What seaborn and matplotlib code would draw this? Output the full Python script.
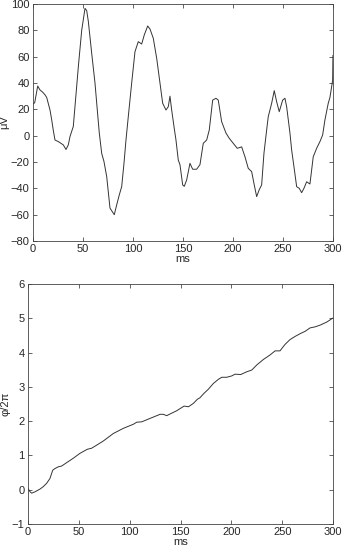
import pandas as pd
import seaborn as sns
import matplotlib.pyplot as plt

# top panel: waveform (ms, microvolts)
eeg_ms = [0, 1.7, 4.7, 7, 9.7, 12, 13.7, 17, 18.7, 20.3, 22, 25.3, 30.3, 33, 35.3, 37,
          40.3, 45.3, 48.7, 50.3, 52, 53.7, 55.3, 58.7, 62, 64.3, 66.3, 68.7, 71, 73.7,
          77, 78.7, 81.3, 83.7, 86.3, 88.7, 91, 93, 95.3, 98.7, 102, 105.3, 108.7, 111.3,
          114.7, 117, 120.3, 123.7, 127, 129.7, 133, 135.3, 137, 138.7, 141, 143, 145.3,
          147, 149.7, 151.3, 153.7, 157, 159.7, 163.7, 167, 170.3, 173.7, 176.3, 179.7,
          183, 185.3, 188.7, 193, 196.3, 200.3, 204.3, 208.7, 212, 215.3, 218.7, 221.3,
          223.7, 226.3, 228.7, 231, 233.7, 235.3, 238.7, 241.3, 243.7, 246.3, 249.7, 252,
          253.7, 257, 258.7, 261, 263.7, 266.3, 268.7, 271, 273.7, 277, 280.3, 283.7, 287,
          289.7, 292, 295.3, 297, 299.7, 300]
eeg_uv = [24, 25, 37.7, 34.7, 33, 31, 29, 19.5, 12, 4, -3.3, -4.5, -7, -10.5, -7, -0.7,
          7, 52, 80, 88, 96.7, 95, 87, 62.6, 40, 19.5, 2, -13.4, -19.7, -31,
          -55, -57, -60, -52.6, -45, -38.7, -21, -3.3, 14.4, 40, 63.8, 71.4, 69.6, 76.5,
          83.3, 81, 74, 58.8, 40, 24.6, 19.5, 22, 30, 19.5, 7, -3.3, -18.5,
          -22, -37.4, -38.5, -33.6, -21, -25.5, -25.5, -22, -5.8, -3.3, 4.3, 27,
          28.4, 27, 10.6, 2, -2, -5.8, -9.6, -8.5, -16, -24.8, -27.3, -37.4,
          -46.3, -41, -37.4, -13.4, 4.3, 14.4, 24.6, 34.2, 25.8, 18.2, 27, 28.4,
          22, 2, -10.9, -23.5, -38.7, -40, -43.3, -40, -35, -36.7, -16, -9.6, -4.5,
          0.5, 12, 24.6, 29, 42, 61]

# bottom panel: unwrapped phase in cycles
phase_ms = [0, 2, 3.6, 6.9, 11.8, 15, 18.4, 21.6, 24.3, 26.6, 29.9, 33, 38, 44.6, 51,
            58.3, 62.5, 67.5, 74, 83.9, 93.7, 103.6, 106.9, 111.8, 120, 129.9, 133,
            136.4, 139.7, 146, 153.5, 157.8, 162.7, 166.6, 169, 173, 177.3, 182.3,
            187.2, 190.5, 195.4, 200.4, 203.6, 209.2, 215.1, 220, 225, 231.5, 238, 243,
            247.8, 252.8, 257.7, 262.6, 267.5, 272.5, 277.4, 282.3, 287.2, 293.8, 300]
phase_cyc = [0.04, -0.06, -0.1, -0.06, 0.02, 0.09, 0.19, 0.33, 0.57, 0.62, 0.67, 0.69,
             0.79, 0.92, 1.06, 1.18, 1.21, 1.3, 1.42, 1.64, 1.79, 1.91, 1.97, 1.98, 2.08,
             2.2, 2.2, 2.16, 2.21, 2.3, 2.44, 2.42, 2.52, 2.64, 2.68, 2.81, 2.93, 3.1,
             3.22, 3.28, 3.28, 3.32, 3.37, 3.36, 3.44, 3.49, 3.64, 3.8, 3.93, 4.05, 4.05,
             4.24, 4.38, 4.47, 4.55, 4.62, 4.72, 4.75, 4.8, 4.89, 5.01]

eeg = pd.DataFrame({'ms': eeg_ms, 'uV': eeg_uv})
phase = pd.DataFrame({'ms': phase_ms, 'cyc': phase_cyc})

sns.set_style('ticks')
plt.rcParams['font.family'] = ['Liberation Sans', 'DejaVu Sans']
plt.rcParams['xtick.direction'] = 'in'
plt.rcParams['ytick.direction'] = 'in'

fig = plt.figure(figsize=(3.42, 5.47), dpi=100)
ax1 = fig.add_axes([0.0965, 0.5594, 0.877, 0.4333])
ax2 = fig.add_axes([0.0819, 0.042, 0.892, 0.4388])

sns.lineplot(data=eeg, x='ms', y='uV', ax=ax1, color='#333333', linewidth=0.7)
ax1.set_xlim(0, 300)
ax1.set_ylim(-80, 100)
ax1.set_yticks(range(-80, 101, 20))
ax1.set_ylabel('μV', fontsize=8, labelpad=1)

sns.lineplot(data=phase, x='ms', y='cyc', ax=ax2, color='#333333', linewidth=0.7)
ax2.set_xlim(0, 300)
ax2.set_ylim(-1, 6)
ax2.set_yticks(range(-1, 7))
ax2.set_ylabel('φ/2π', fontsize=8, labelpad=1)

for ax in (ax1, ax2):
    ax.set_xticks(range(0, 301, 50))
    ax.set_xlabel('ms', fontsize=8, labelpad=0)
    ax.tick_params(labelsize=8, length=3, width=0.5, top=True, right=True)
    ax.tick_params(axis='x', pad=2.5)
    ax.tick_params(axis='y', pad=2.5)
    for s in ax.spines.values():
        s.set_visible(True)
        s.set_linewidth(0.6)
        s.set_color('#444444')

fig.savefig('out.png', dpi=100)
